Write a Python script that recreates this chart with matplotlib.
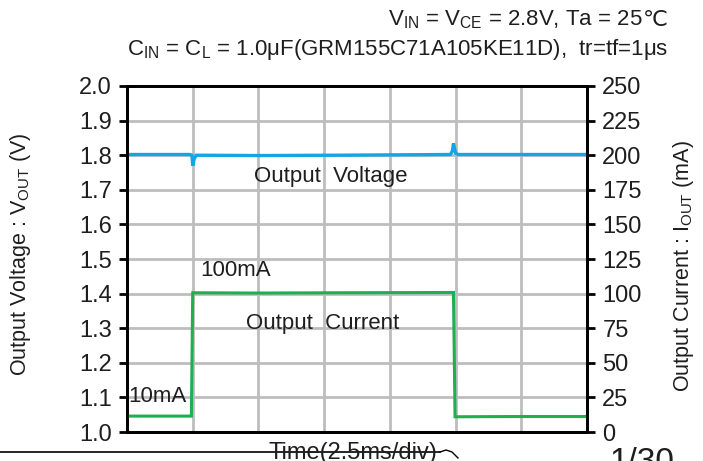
import matplotlib
matplotlib.use("Agg")
import matplotlib.pyplot as plt

plt.rcParams["font.family"] = ["Liberation Sans", "DejaVu Sans"]
plt.rcParams["mathtext.fontset"] = "custom"
plt.rcParams["mathtext.rm"] = "Liberation Sans"
plt.rcParams["mathtext.it"] = "Liberation Sans"

# ── Data (time in ms, 2.5 ms/div, 7 div) ──
t_volt = [0.0, 2.40, 2.47, 2.50, 2.56, 2.64, 5.0, 8.0, 12.30, 12.38, 12.42, 12.50, 12.60, 15.0, 17.5]
v_out  = [1.802, 1.802, 1.800, 1.770, 1.790, 1.800, 1.799, 1.800, 1.802, 1.812, 1.834, 1.806, 1.802, 1.802, 1.802]

t_curr = [0.0, 2.45, 2.50, 5.0, 8.0, 12.35, 12.42, 12.48, 15.0, 17.5]
i_out  = [11.5, 11.5, 100.6, 100.4, 100.6, 100.8, 100.8, 11.0, 11.2, 11.2]

v_ticks = [1.0, 1.1, 1.2, 1.3, 1.4, 1.5, 1.6, 1.7, 1.8, 1.9, 2.0]
i_ticks = [0, 25, 50, 75, 100, 125, 150, 175, 200, 225, 250]
t_div = [0.0, 2.5, 5.0, 7.5, 10.0, 12.5, 15.0, 17.5]

BLUE = "#14a5e6"
GREEN = "#1fae50"
GRID = "#bdbdbd"
TXT = "#1e1e1e"
FS = 16

fig = plt.figure(figsize=(7.03, 4.61), dpi=100)
ax = fig.add_axes([127 / 703, 29 / 461, 460 / 703, 346 / 461])
ax2 = ax.twinx()

ax.set_xlim(0, 17.5)
ax.set_ylim(1.0, 2.0)
ax2.set_ylim(0, 250)

ax.set_xticks(t_div)
ax.set_yticks(v_ticks)
ax.set_yticklabels([f"{v:.1f}" for v in v_ticks])
ax2.set_yticks(i_ticks)
ax.grid(True, color=GRID, linewidth=2)
ax.set_axisbelow(True)
ax.tick_params(axis="x", length=0, labelbottom=False)
ax.tick_params(axis="y", direction="out", length=6, width=2, labelsize=17, pad=5, labelcolor=TXT)
ax2.tick_params(axis="y", direction="out", length=6, width=2, labelsize=17, pad=5, labelcolor=TXT)
for a in (ax, ax2):
    for s in a.spines.values():
        s.set_linewidth(2)
        s.set_color("black")

ax.plot(t_volt, v_out, color=BLUE, linewidth=2.4, solid_joinstyle="miter")
ax2.plot(t_curr, i_out, color=GREEN, linewidth=2.2, solid_joinstyle="miter")

ax.set_ylabel(r"Output Voltage : V$_{\mathrm{OUT}}$ (V)", fontsize=15.5, color=TXT)
ax.yaxis.set_label_coords(-0.205, 0.515)
ax2.set_ylabel(r"Output Current : I$_{\mathrm{OUT}}$ (mA)", fontsize=15.5, color=TXT, rotation=90)
ax2.yaxis.set_label_coords(1.182, 0.48)

ax.text(7.76, 1.737, "Output  Voltage", fontsize=FS, ha="center", va="center", color=TXT)
ax.text(7.46, 1.315, "Output  Current", fontsize=FS, ha="center", va="center", color=TXT)
ax.text(2.78, 1.468, "100mA", fontsize=FS, ha="left", va="center", color=TXT)
ax.text(0.04, 1.104, "10mA", fontsize=FS, ha="left", va="center", color=TXT)

# header lines (℃ drawn separately so it can use DejaVu Sans)
renderer = fig.canvas.get_renderer()
deg = fig.text(668 / 703, 1 - 20 / 461, "℃", fontsize=FS, ha="right", va="center", color=TXT,
               family=["DejaVu Sans"])
deg_w = deg.get_window_extent(renderer).width / fig.bbox.width
fig.text(668 / 703 - deg_w, 1 - 20 / 461, r"V$_{\mathrm{IN}}$ = V$_{\mathrm{CE}}$ = 2.8V, Ta = 25",
         fontsize=FS, ha="right", va="center", color=TXT)
fig.text(668 / 703, 1 - 50 / 461,
         r"C$_{\mathrm{IN}}$ = C$_{\mathrm{L}}$ = 1.0μF(GRM155C71A105KE11D),  tr=tf=1μs",
         fontsize=FS, ha="right", va="center", color=TXT)

# page artefacts at the bottom
fig.text(353 / 703, 1 - 459 / 461, "Time(2.5ms/div)", fontsize=17, ha="center", va="baseline",
         color=TXT)
fig.add_artist(plt.Line2D([0, 440 / 703], [1 - 452 / 461, 1 - 452 / 461], color="black",
                          linewidth=1.2, transform=fig.transFigure))
fig.add_artist(plt.Line2D([440 / 703, 446 / 703, 452 / 703, 458 / 703],
                          [1 - 452 / 461, 1 - 450 / 461, 1 - 452 / 461, 1 - 458 / 461],
                          color="black", linewidth=1.0, transform=fig.transFigure))
fig.text(610 / 703, 1 - 471 / 461, "1/30", fontsize=24, ha="left", va="baseline", color=TXT)

fig.savefig("out.png", dpi=100)
